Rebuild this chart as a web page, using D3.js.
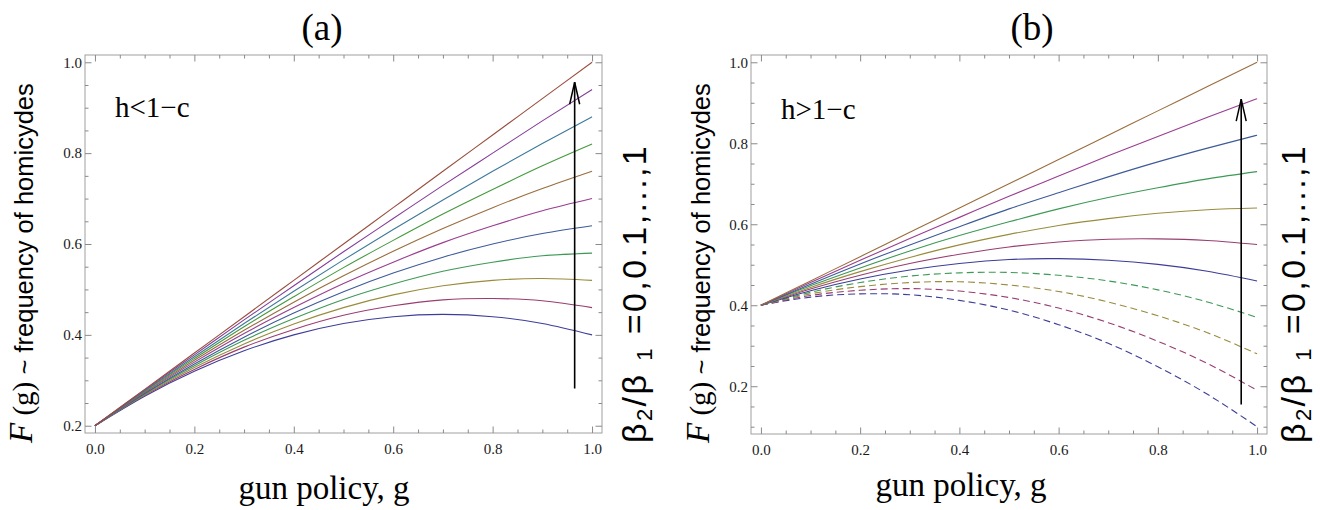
<!DOCTYPE html>
<html><head><meta charset="utf-8">
<script src="https://cdn.jsdelivr.net/npm/d3@7/dist/d3.min.js"></script>
<style>
body{margin:0;background:#fff}
svg{display:block}
.serif{font-family:"Liberation Serif","Times New Roman",serif}
.sans{font-family:"Liberation Sans",Arial,sans-serif}
</style></head>
<body>
<svg id="chart" width="1320" height="510"></svg>
<script>
// ---------- data ----------
const gValues = [0, 0.1, 0.2, 0.3, 0.4, 0.5, 0.6, 0.7, 0.8, 0.9, 1.0];
const ratioValues = [0, 0.1, 0.2, 0.3, 0.4, 0.5, 0.6, 0.7, 0.8, 0.9, 1.0];

// panel (a): h<1-c, one curve per beta2/beta1 ratio (bottom -> top)
const curvesA = [
  [0.200, 0.265, 0.320, 0.365, 0.400, 0.425, 0.440, 0.445, 0.440, 0.425, 0.400],
  [0.200, 0.267, 0.324, 0.373, 0.412, 0.443, 0.464, 0.477, 0.480, 0.475, 0.460],
  [0.200, 0.268, 0.328, 0.380, 0.424, 0.460, 0.488, 0.508, 0.520, 0.524, 0.520],
  [0.200, 0.270, 0.332, 0.388, 0.436, 0.478, 0.512, 0.540, 0.560, 0.574, 0.580],
  [0.200, 0.271, 0.336, 0.395, 0.448, 0.495, 0.536, 0.571, 0.600, 0.623, 0.640],
  [0.200, 0.273, 0.340, 0.403, 0.460, 0.513, 0.560, 0.603, 0.640, 0.673, 0.700],
  [0.200, 0.274, 0.344, 0.410, 0.472, 0.530, 0.584, 0.634, 0.680, 0.722, 0.760],
  [0.200, 0.276, 0.348, 0.418, 0.484, 0.548, 0.608, 0.666, 0.720, 0.772, 0.820],
  [0.200, 0.277, 0.352, 0.425, 0.496, 0.565, 0.632, 0.697, 0.760, 0.821, 0.880],
  [0.200, 0.279, 0.356, 0.433, 0.508, 0.583, 0.656, 0.729, 0.800, 0.871, 0.940],
  [0.200, 0.280, 0.360, 0.440, 0.520, 0.600, 0.680, 0.760, 0.840, 0.920, 1.000]
];

// panel (b): h>1-c
const curvesB = [
  [0.400, 0.420, 0.428, 0.426, 0.412, 0.388, 0.352, 0.306, 0.248, 0.180, 0.100],
  [0.400, 0.424, 0.437, 0.441, 0.435, 0.419, 0.393, 0.357, 0.311, 0.256, 0.190],
  [0.400, 0.428, 0.446, 0.456, 0.458, 0.450, 0.434, 0.408, 0.374, 0.332, 0.280],
  [0.400, 0.432, 0.456, 0.472, 0.480, 0.481, 0.474, 0.460, 0.438, 0.408, 0.370],
  [0.400, 0.436, 0.465, 0.487, 0.503, 0.513, 0.515, 0.511, 0.501, 0.484, 0.460],
  [0.400, 0.440, 0.474, 0.503, 0.526, 0.544, 0.556, 0.563, 0.564, 0.560, 0.550],
  [0.400, 0.444, 0.483, 0.518, 0.549, 0.575, 0.597, 0.614, 0.627, 0.636, 0.640],
  [0.400, 0.448, 0.492, 0.534, 0.572, 0.606, 0.638, 0.666, 0.690, 0.712, 0.730],
  [0.400, 0.452, 0.502, 0.549, 0.594, 0.638, 0.678, 0.717, 0.754, 0.788, 0.820],
  [0.400, 0.456, 0.511, 0.565, 0.617, 0.669, 0.719, 0.769, 0.817, 0.864, 0.910],
  [0.400, 0.460, 0.520, 0.580, 0.640, 0.700, 0.760, 0.820, 0.880, 0.940, 1.000]
];
const dashedB = [true, true, true, true, false, false, false, false, false, false, false];
const colorIndexB = [0, 1, 2, 3, 0, 1, 2, 3, 4, 5, 6];

const xTickValues = [0, 0.2, 0.4, 0.6, 0.8, 1.0];
const yTickValuesA = [0.2, 0.4, 0.6, 0.8, 1.0];
const yTickValuesB = [0.2, 0.4, 0.6, 0.8, 1.0];
const xMinorTicks = [0.05, 0.1, 0.15, 0.25, 0.3, 0.35, 0.45, 0.5, 0.55, 0.65, 0.7, 0.75, 0.85, 0.9, 0.95];
const yMinorTicksA = [0.25, 0.3, 0.35, 0.45, 0.5, 0.55, 0.65, 0.7, 0.75, 0.85, 0.9, 0.95];
const yMinorTicksB = [0.1, 0.15, 0.25, 0.3, 0.35, 0.45, 0.5, 0.55, 0.65, 0.7, 0.75, 0.85, 0.9, 0.95];

const palette = ["#3d3d99", "#993d71", "#998c3d", "#3d9956", "#3d5a99", "#993d90",
                 "#996d3d", "#43993d", "#3d7999", "#843d99", "#994e3d"];

const titles = ["(a)", "(b)"];
const regimeLabels = ["h<1\u2212c", "h>1\u2212c"];
const xLabel = "gun policy, g";
const arrowA = {g: 0.965, from: 0.282, to: 0.956};
const arrowB = {g: 0.968, from: 0.155, to: 0.909};

// ---------- drawing ----------
const svg = d3.select("#chart");

function drawPanel(cfg) {
  const x = d3.scaleLinear().domain(cfg.xDomain).range([cfg.left, cfg.right]);
  const y = d3.scaleLinear().domain(cfg.yDomain).range([cfg.bottom, cfg.top]);
  const g = svg.append("g");

  g.append("rect").attr("x", cfg.left).attr("y", cfg.top)
    .attr("width", cfg.right - cfg.left).attr("height", cfg.bottom - cfg.top)
    .attr("fill", "none").attr("stroke", "#a0a0a0").attr("stroke-width", 1);

  function axis(gen, tr, vals, size, labels, pad) {
    const a = gen.tickValues(vals).tickSizeInner(-size).tickSizeOuter(0).tickPadding(pad)
      .tickFormat(labels ? d3.format(".1f") : () => "");
    const ag = g.append("g").attr("transform", tr).call(a)
      .attr("font-size", 15).attr("font-family", '"Liberation Serif",serif');
    ag.select(".domain").remove();
    ag.selectAll("line").attr("stroke", "#8a8a8a");
    ag.selectAll("text").attr("fill", "#1a1a1a");
    return ag;
  }
  const b = `translate(0,${cfg.bottom})`, t = `translate(0,${cfg.top})`;
  const l = `translate(${cfg.left},0)`, r = `translate(${cfg.right},0)`;
  axis(d3.axisBottom(x), b, xTickValues, 6.5, true, 10);
  axis(d3.axisBottom(x), b, xMinorTicks, 3.5, false, 0);
  axis(d3.axisTop(x), t, xTickValues, 6.5, false, 0);
  axis(d3.axisTop(x), t, xMinorTicks, 3.5, false, 0);
  axis(d3.axisLeft(y), l, cfg.yTicks, 6.5, true, 3);
  axis(d3.axisLeft(y), l, cfg.yMinor, 3.5, false, 0);
  axis(d3.axisRight(y), r, cfg.yTicks, 6.5, false, 0);
  axis(d3.axisRight(y), r, cfg.yMinor, 3.5, false, 0);

  const line = d3.line().x((d, i) => x(gValues[i])).y(d => y(d)).curve(d3.curveNatural);
  cfg.curves.forEach((c, k) => {
    g.append("path").attr("d", line(c)).attr("fill", "none")
      .attr("stroke", palette[cfg.colorIndex[k]]).attr("stroke-width", 1.1)
      .attr("stroke-dasharray", cfg.dashed[k] ? "7,4" : null);
  });

  const ax = x(cfg.arrow.g), y0 = y(cfg.arrow.from), y1 = y(cfg.arrow.to);
  g.append("line").attr("x1", ax).attr("x2", ax).attr("y1", y0).attr("y2", y1)
    .attr("stroke", "#000").attr("stroke-width", 1.6);
  g.append("path").attr("d", `M${ax - 5},${y1 + 22} L${ax},${y1} L${ax + 5},${y1 + 22}`)
    .attr("fill", "none").attr("stroke", "#000").attr("stroke-width", 1.5);

  g.append("text").attr("class", "serif").attr("x", cfg.titleX).attr("y", 40)
    .attr("text-anchor", "middle").attr("font-size", 37).text(cfg.title);
  g.append("text").attr("class", "serif").attr("x", cfg.left + 30).attr("y", cfg.regimeY)
    .attr("font-size", 29).text(cfg.regime);
  g.append("text").attr("class", "serif").attr("x", cfg.xLabelX).attr("y", cfg.xLabelY)
    .attr("text-anchor", "middle").attr("font-size", 33).text(xLabel);

  const yl = g.append("text").attr("transform", `translate(${cfg.yLabelX},443) rotate(-90)`)
    .attr("text-anchor", "start");
  yl.append("tspan").attr("class", "serif").attr("font-style", "italic")
    .attr("font-size", 33).attr("dy", -1).text("F");
  yl.append("tspan").attr("class", "serif").attr("font-size", 29).attr("dy", 1).text(" (g) ");
  yl.append("tspan").attr("class", "sans").attr("font-size", 25.5).text(" ~ frequency of homicydes");

  const rl = g.append("text").attr("class", "sans").attr("font-size", 34)
    .attr("letter-spacing", 2.4)
    .attr("transform", `translate(${cfg.rLabelX},443) rotate(-90)`).attr("text-anchor", "start");
  rl.append("tspan").text("\u03b2");
  rl.append("tspan").attr("font-size", 22).attr("dy", 6).text("2");
  rl.append("tspan").attr("dy", -6).text("/\u03b2 ");
  rl.append("tspan").attr("font-size", 22).attr("dy", 6).text("1");
  rl.append("tspan").attr("dy", -6).text(" =0,0.1,...,1");
}

drawPanel({
  left: 85, right: 602, top: 55, bottom: 433,
  xDomain: [-0.02, 1.02], yDomain: [0.184, 1.016],
  yTicks: yTickValuesA, yMinor: yMinorTicksA,
  curves: curvesA, colorIndex: d3.range(11), dashed: curvesA.map(() => false),
  arrow: arrowA, title: titles[0], titleX: 322, regime: regimeLabels[0], regimeY: 117,
  xLabelX: 324, xLabelY: 499, yLabelX: 33, rLabelX: 646
});
drawPanel({
  left: 751, right: 1267, top: 55, bottom: 434,
  xDomain: [-0.02, 1.02], yDomain: [0.082, 1.018],
  yTicks: yTickValuesB, yMinor: yMinorTicksB,
  curves: curvesB, colorIndex: colorIndexB, dashed: dashedB,
  arrow: arrowB, title: titles[1], titleX: 1032, regime: regimeLabels[1], regimeY: 119,
  xLabelX: 961, xLabelY: 496, yLabelX: 710, rLabelX: 1305
});
</script>
</body></html>
